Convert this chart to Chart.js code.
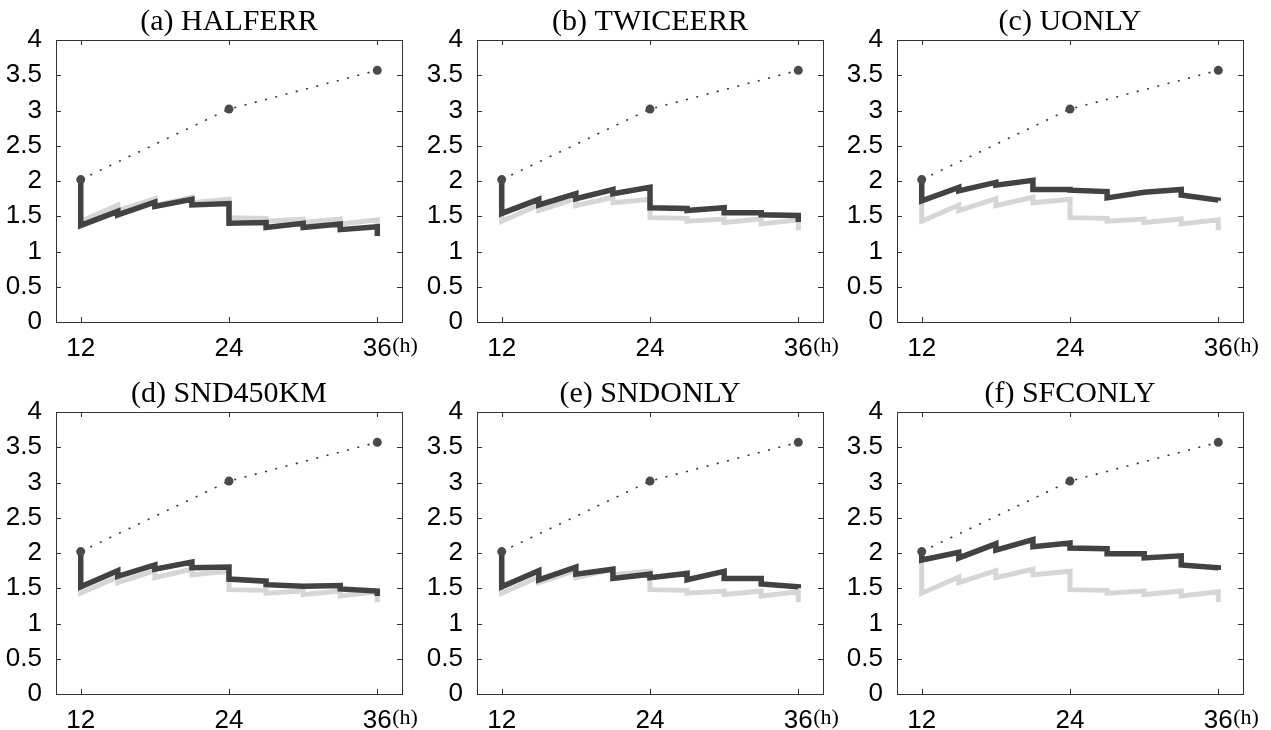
<!DOCTYPE html>
<html>
<head>
<meta charset="utf-8">
<script src="https://cdn.jsdelivr.net/npm/chart.js@4"></script>
<style>
  html, body { margin: 0; padding: 0; background: #fff; }
  #wrap { position: relative; width: 1271px; height: 730px; overflow: hidden; }
  #wrap canvas { position: absolute; }
</style>
</head>
<body>
<div id="wrap">
  <canvas id="c0" width="421" height="358" style="left:0px;top:0px"></canvas>
  <canvas id="c1" width="421" height="358" style="left:421px;top:0px"></canvas>
  <canvas id="c2" width="430" height="358" style="left:841px;top:0px"></canvas>
  <canvas id="c3" width="421" height="358" style="left:0px;top:372px"></canvas>
  <canvas id="c4" width="421" height="358" style="left:421px;top:372px"></canvas>
  <canvas id="c5" width="430" height="358" style="left:841px;top:372px"></canvas>
</div>
<script>
// analysis times (h)
var hours = [12, 15, 18, 21, 24, 27, 30, 33, 36];
var xTicks = [12, 24, 36];
var yTicks = [0, 0.5, 1, 1.5, 2, 2.5, 3, 3.5, 4];

// no-assimilation reference error (dotted line with dots)
var refHours = [12, 24, 36];
var refErr = [2.02, 3.02, 3.57];

// value before analysis (forecast) and after analysis at each hour
var ctrlFcst = [2.02, 1.66, 1.75, 1.77, 1.74, 1.47, 1.46, 1.46, 1.45];
var ctrlAnal = [1.43, 1.58, 1.65, 1.69, 1.48, 1.43, 1.41, 1.39, 1.30];

var halferrFcst = [2.02, 1.57, 1.70, 1.74, 1.68, 1.41, 1.40, 1.39, 1.35];
var halferrAnal = [1.37, 1.52, 1.64, 1.66, 1.40, 1.34, 1.34, 1.31, 1.22];

var twiceerrFcst = [2.02, 1.74, 1.82, 1.88, 1.91, 1.61, 1.62, 1.55, 1.51];
var twiceerrAnal = [1.54, 1.66, 1.75, 1.82, 1.62, 1.58, 1.55, 1.52, 1.42];

var uonlyFcst = [2.02, 1.91, 1.98, 2.01, 1.88, 1.85, 1.84, 1.88, 1.73];
var uonlyAnal = [1.72, 1.86, 1.94, 1.88, 1.87, 1.76, 1.84, 1.80, 1.72];

var snd450Fcst = [2.02, 1.75, 1.83, 1.87, 1.80, 1.60, 1.53, 1.54, 1.46];
var snd450Anal = [1.52, 1.67, 1.77, 1.79, 1.63, 1.55, 1.53, 1.49, 1.39];

var sndonlyFcst = [2.02, 1.75, 1.80, 1.77, 1.70, 1.71, 1.74, 1.64, 1.52];
var sndonlyAnal = [1.52, 1.62, 1.70, 1.64, 1.65, 1.62, 1.64, 1.56, 1.50];

var sfconlyFcst = [2.02, 2.01, 2.13, 2.19, 2.14, 2.06, 1.99, 1.96, 1.79];
var sfconlyAnal = [1.90, 1.93, 2.04, 2.09, 2.07, 1.99, 1.93, 1.83, 1.76];

var titles = ['(a) HALFERR', '(b) TWICEERR', '(c) UONLY', '(d) SND450KM', '(e) SNDONLY', '(f) SFCONLY'];
var expFcst = [halferrFcst, twiceerrFcst, uonlyFcst, snd450Fcst, sndonlyFcst, sfconlyFcst];
var expAnal = [halferrAnal, twiceerrAnal, uonlyAnal, snd450Anal, sndonlyAnal, sfconlyAnal];

// sawtooth: at each hour a vertical jump from forecast to analysis
function sawtooth(fcst, anal) {
    var pts = [];
    hours.forEach(function (h, i) {
        pts.push({x: h, y: fcst[i]});
        pts.push({x: h, y: anal[i]});
    });
    return pts;
}

var axisColor = '#333';
var tickFont = { family: '"Liberation Sans", Arial, sans-serif', size: 26 };

// box around the plot with inward ticks on all sides, plus the "(h)" unit
var framePlugin = {
    id: 'frame',
    afterDraw: function (chart) {
        var ctx = chart.ctx;
        var a = chart.chartArea;
        var xs = chart.scales.x, ys = chart.scales.y;
        var tl = 5;
        ctx.save();
        ctx.strokeStyle = axisColor;
        ctx.lineWidth = 1;
        ctx.strokeRect(Math.round(a.left) + 0.5, Math.round(a.top) + 0.5,
                       Math.round(a.right - a.left), Math.round(a.bottom - a.top));
        ctx.beginPath();
        yTicks.forEach(function (v) {
            var py = Math.round(ys.getPixelForValue(v)) + 0.5;
            ctx.moveTo(a.left, py); ctx.lineTo(a.left + tl, py);
            ctx.moveTo(a.right, py); ctx.lineTo(a.right - tl, py);
        });
        xTicks.forEach(function (v) {
            var px = Math.round(xs.getPixelForValue(v)) + 0.5;
            ctx.moveTo(px, a.bottom); ctx.lineTo(px, a.bottom - tl);
            ctx.moveTo(px, a.top); ctx.lineTo(px, a.top + tl);
        });
        ctx.stroke();
        ctx.fillStyle = '#000';
        ctx.font = '22px "Liberation Serif", "Times New Roman", serif';
        ctx.textAlign = 'left';
        ctx.textBaseline = 'middle';
        ctx.fillText('(h)', xs.getPixelForValue(36) + 15, a.bottom + 24);
        ctx.restore();
    }
};

titles.forEach(function (title, k) {
    var canvas = document.getElementById('c' + k);
    var ctx = canvas.getContext('2d');
    var padRight = canvas.width - 56 - 346;

    new Chart(ctx, {
        type: 'line',
        data: {
            datasets: [
                {
                    data: refHours.map(function (h, i) { return {x: h, y: refErr[i]}; }),
                    borderColor: '#333',
                    borderWidth: 1.6,
                    borderDash: [2, 8.6],
                    pointRadius: 4.5,
                    pointBackgroundColor: '#4a4a4a',
                    pointBorderWidth: 0,
                    tension: 0,
                    order: 0
                },
                {
                    data: sawtooth(expFcst[k], expAnal[k]),
                    borderColor: '#424242',
                    borderWidth: 5.5,
                    pointRadius: 0,
                    borderJoinStyle: 'miter',
                    tension: 0,
                    order: 1
                },
                {
                    data: sawtooth(ctrlFcst, ctrlAnal),
                    borderColor: '#d6d6d6',
                    borderWidth: 5,
                    pointRadius: 0,
                    borderJoinStyle: 'miter',
                    tension: 0,
                    order: 2
                }
            ]
        },
        options: {
            responsive: false,
            animation: false,
            events: [],
            layout: { padding: { left: 0, right: padRight, top: 0, bottom: 0 } },
            plugins: {
                legend: { display: false },
                tooltip: { enabled: false },
                title: {
                    display: true,
                    text: title,
                    fullSize: false,
                    color: '#000',
                    font: { family: '"Liberation Serif", "Times New Roman", serif', size: 30, weight: 'normal', lineHeight: 1.2 },
                    padding: { top: 4, bottom: 0 }
                }
            },
            scales: {
                x: {
                    type: 'linear',
                    min: 10,
                    max: 38,
                    grid: { display: false },
                    border: { display: false },
                    afterBuildTicks: function (s) {
                        s.ticks = xTicks.map(function (v) { return {value: v}; });
                    },
                    afterFit: function (s) { s.height = 36; },
                    ticks: {
                        autoSkip: false,
                        maxRotation: 0,
                        padding: 3,
                        color: '#000',
                        font: tickFont
                    }
                },
                y: {
                    min: 0,
                    max: 4,
                    grid: { display: false },
                    border: { display: false },
                    afterBuildTicks: function (s) {
                        s.ticks = yTicks.map(function (v) { return {value: v}; });
                    },
                    afterFit: function (s) { s.width = 56; },
                    ticks: {
                        padding: 6,
                        color: '#000',
                        font: tickFont,
                        callback: function (v) { return String(v); }
                    }
                }
            }
        },
        plugins: [framePlugin]
    });
});
</script>
</body>
</html>
